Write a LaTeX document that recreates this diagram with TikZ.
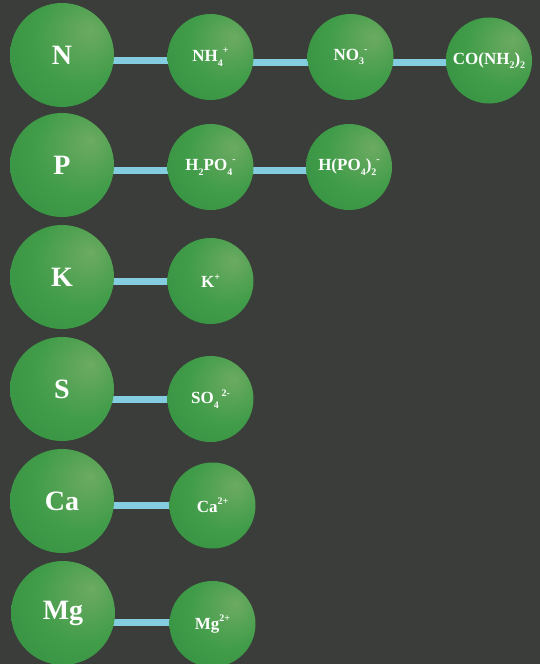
\documentclass[tikz,border=0pt]{standalone}
\usepackage{fontspec}
\setmainfont{Liberation Serif}
\pgfdeclarelayer{background}
\pgfdeclarelayer{bg0}
\pgfsetlayers{bg0,background,main}
\definecolor{bgcol}{HTML}{3A3D39}
\definecolor{barcol}{HTML}{84CDE0}
\definecolor{ballhi}{HTML}{6CAA62}
\definecolor{ballmid}{HTML}{429D4A}
\definecolor{balledge}{HTML}{2C8B3A}
\pgfdeclareradialshading{greenball}{\pgfpoint{14bp}{12bp}}{color(0bp)=(ballhi); color(22bp)=(ballmid); color(52bp)=(balledge); color(70bp)=(balledge)}
\newcommand\ionlo[1]{\raisebox{-0.28em}{\fontsize{10}{10}\selectfont #1}}
\newcommand\ionhi[1]{\raisebox{0.45em}{\fontsize{10}{10}\selectfont #1}}
\tikzset{
  elem/.style={circle, inner sep=0pt, minimum size=104pt, shading=greenball, text=white, font=\bfseries\fontsize{28}{30}\selectfont},
  ion/.style={circle, inner sep=0pt, minimum size=86pt, shading=greenball, text=white, font=\bfseries\fontsize{17}{18}\selectfont},
  bar/.style={line width=7pt, draw=barcol}
}
\begin{document}
\begin{tikzpicture}[x=1pt,y=-1pt]
\begin{pgfonlayer}{bg0}
\fill[bgcol] (0,0) rectangle (540,664);
\end{pgfonlayer}
\useasboundingbox (0,0) rectangle (540,664);
% elements
\node[elem] (N) at (62,55) {N};
\node[elem] (P) at (62,165) {P};
\node[elem] (K) at (62,277) {K};
\node[elem] (S) at (62,389) {S};
\node[elem] (Ca) at (62,501) {Ca};
\node[elem] (Mg) at (63,613) {Mg};
% ions
\node[ion] (NH4) at (210.5,57) {NH\ionlo{4}\ionhi{+}};
\node[ion] (NO3) at (350.5,57) {NO\ionlo{3}\ionhi{-}};
\node[ion] (CO) at (489,60.5) {CO(NH\ionlo{2})\ionlo{2}};
\node[ion] (H2PO4) at (210.5,167) {H\ionlo{2}PO\ionlo{4}\ionhi{-}};
\node[ion] (HPO4) at (349,167) {H(PO\ionlo{4})\ionlo{2}\ionhi{-}};
\node[ion] (Kp) at (210.5,281) {K\ionhi{+}};
\node[ion] (SO4) at (210.5,399) {SO\ionlo{4}\,\ionhi{2-}};
\node[ion] (Ca2) at (212.5,505.5) {Ca\ionhi{2+}};
\node[ion] (Mg2) at (212.5,624) {Mg\ionhi{2+}};
\begin{pgfonlayer}{background}
\draw[bar] (N.center |- 0,60) -- (NH4.center |- 0,60);
\draw[bar] (NH4.center |- 0,62) -- (NO3.center |- 0,62);
\draw[bar] (NO3.center |- 0,62) -- (CO.center |- 0,62);
\draw[bar] (P.center |- 0,170) -- (H2PO4.center |- 0,170);
\draw[bar] (H2PO4.center |- 0,170) -- (HPO4.center |- 0,170);
\draw[bar] (K.center |- 0,281) -- (Kp.center |- 0,281);
\draw[bar] (S.center |- 0,399) -- (SO4.center |- 0,399);
\draw[bar] (Ca.center |- 0,505) -- (Ca2.center |- 0,505);
\draw[bar] (Mg.center |- 0,622) -- (Mg2.center |- 0,622);
\end{pgfonlayer}
\end{tikzpicture}
\end{document}
